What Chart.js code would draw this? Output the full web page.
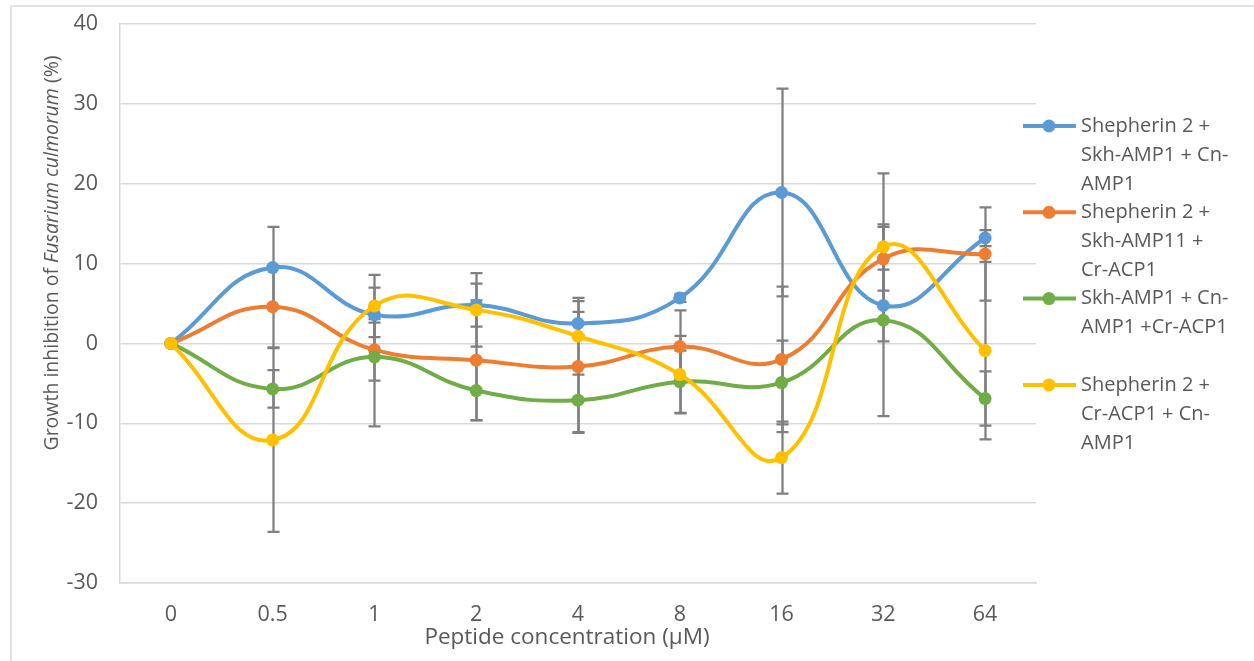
<!DOCTYPE html>
<html>
<head>
<meta charset="utf-8">
<script src="https://cdn.jsdelivr.net/npm/chart.js@4.4.1/dist/chart.umd.min.js"></script>
<style>
  html, body { margin: 0; padding: 0; background: #fff; }
  #wrap { position: relative; width: 1254px; height: 661px; }
</style>
</head>
<body>
<div id="wrap"><canvas id="chart"></canvas></div>
<script>
// Peptide concentrations (µM) on the category axis
const concentrations = ["0", "0.5", "1", "2", "4", "8", "16", "32", "64"];

// Mean growth inhibition (%) and error (±) per combination
const shepSkhCn = [0, 9.5, 3.6, 4.8, 2.5, 5.7, 18.9, 4.75, 13.2];
const shepSkhCnErr = [0, 5.1, 1.0, 2.7, 1.45, 0.5, 13.0, 4.5, 1.0];

const shepSkh11Cr = [0, 4.6, -0.8, -2.1, -2.9, -0.4, -2.0, 10.6, 11.2];
const shepSkh11CrErr = [0, 5.1, 3.85, 7.5, 8.2, 4.55, 9.1, 4.0, 5.85];

const skhCnCr = [0, -5.7, -1.7, -5.9, -7.1, -4.8, -4.9, 2.9, -6.9];
const skhCnCrErr = [0, 2.35, 8.7, 3.75, 4.1, 3.9, 5.25, 12.0, 3.4];

const shepCrCn = [0, -12.1, 4.7, 4.2, 0.9, -3.9, -14.3, 12.1, -0.9];
const shepCrCnErr = [0, 11.5, 3.9, 4.6, 4.8, 4.85, 4.5, 9.2, 11.1];

// Legend text, already broken into lines
const legendLines = [
  ["Shepherin 2 +", "Skh-AMP1 + Cn-", "AMP1"],
  ["Shepherin 2 +", "Skh-AMP11 +", "Cr-ACP1"],
  ["Skh-AMP1 + Cn-", "AMP1 +Cr-ACP1"],
  ["Shepherin 2 +", "Cr-ACP1 + Cn-", "AMP1"],
];

const yTicks = { min: -30, max: 40, step: 10 };

const colors = ["#5b9bd5", "#ed7d31", "#70ad47", "#ffc000"];
const textColor = "#595959";
const gridColor = "#d9d9d9";
const fontFamily = "'Open Sans', sans-serif";

function series(i, label, data, errors) {
  return {
    label,
    data,
    errors,
    borderColor: colors[i],
    backgroundColor: colors[i],
    pointBackgroundColor: colors[i],
    pointBorderColor: colors[i],
    pointRadius: 6.5,
    pointBorderWidth: 0,
    borderWidth: 4,
    tension: 0.45,
    order: 3 - i, // later series sit on top
  };
}

// Vertical error bars with caps, drawn under the lines
const errorBars = {
  id: "errorBars",
  beforeDatasetsDraw(chart) {
    const { ctx, scales: { x, y } } = chart;
    ctx.save();
    ctx.strokeStyle = "#7f7f7f";
    ctx.lineWidth = 2.25;
    chart.data.datasets.forEach((ds) => {
      ds.data.forEach((v, j) => {
        const e = ds.errors[j];
        if (!e) return;
        const px = Math.round(x.getPixelForValue(j)) + 0.5;
        const top = y.getPixelForValue(v + e);
        const bot = y.getPixelForValue(v - e);
        ctx.beginPath();
        ctx.moveTo(px, top);
        ctx.lineTo(px, bot);
        ctx.moveTo(px - 6, top);
        ctx.lineTo(px + 6, top);
        ctx.moveTo(px - 6, bot);
        ctx.lineTo(px + 6, bot);
        ctx.stroke();
      });
    });
    ctx.restore();
  },
};

// Frame, axis titles and the wrapped legend
const decorations = {
  id: "decorations",
  beforeDraw(chart) {
    const { ctx } = chart;
    ctx.save();
    ctx.strokeStyle = gridColor;
    ctx.lineWidth = 1.5;
    ctx.strokeRect(11, 6, 1400, 800);
    ctx.restore();
  },
  afterDraw(chart) {
    const { ctx } = chart;
    ctx.save();
    ctx.fillStyle = textColor;
    ctx.textBaseline = "middle";

    // x axis title
    ctx.font = `22.5px ${fontFamily}`;
    ctx.textAlign = "center";
    ctx.fillText("Peptide concentration (µM)", 567, 638);

    // y axis title with italic species name
    const parts = [
      ["Growth inhibition of ", `19.5px ${fontFamily}`],
      ["Fusarium culmorum", `italic 19.5px ${fontFamily}`],
      [" (%)", `19.5px ${fontFamily}`],
    ];
    let total = 0;
    const widths = parts.map(([t, f]) => {
      ctx.font = f;
      const w = ctx.measureText(t).width;
      total += w;
      return w;
    });
    ctx.translate(52, 253);
    ctx.rotate(-Math.PI / 2);
    ctx.textAlign = "left";
    let cx = -total / 2;
    parts.forEach(([t, f], k) => {
      ctx.font = f;
      ctx.fillText(t, cx, 0);
      cx += widths[k];
    });
    ctx.setTransform(1, 0, 0, 1, 0, 0);

    // legend
    ctx.font = `20px ${fontFamily}`;
    ctx.textAlign = "left";
    legendLines.forEach((lines, i) => {
      const ly = 126 + i * 86.3;
      ctx.strokeStyle = colors[i];
      ctx.lineWidth = 4;
      ctx.beginPath();
      ctx.moveTo(1023, ly);
      ctx.lineTo(1076, ly);
      ctx.stroke();
      ctx.fillStyle = colors[i];
      ctx.beginPath();
      ctx.arc(1049, ly, 6.5, 0, Math.PI * 2);
      ctx.fill();
      ctx.fillStyle = textColor;
      lines.forEach((t, k) => ctx.fillText(t, 1081, ly + k * 29));
    });
    ctx.restore();
  },
};

new Chart(document.getElementById("chart"), {
  type: "line",
  data: {
    labels: concentrations,
    datasets: [
      series(0, "Shepherin 2 + Skh-AMP1 + Cn-AMP1", shepSkhCn, shepSkhCnErr),
      series(1, "Shepherin 2 + Skh-AMP11 + Cr-ACP1", shepSkh11Cr, shepSkh11CrErr),
      series(2, "Skh-AMP1 + Cn-AMP1 +Cr-ACP1", skhCnCr, skhCnCrErr),
      series(3, "Shepherin 2 + Cr-ACP1 + Cn-AMP1", shepCrCn, shepCrCnErr),
    ],
  },
  options: {
    responsive: true,
    maintainAspectRatio: false,
    animation: false,
    layout: { padding: { left: 0, top: 24, right: 218, bottom: 0 } },
    plugins: {
      legend: { display: false },
      tooltip: { enabled: false },
    },
    scales: {
      x: {
        offset: true,
        grid: { display: false, drawTicks: false },
        border: { display: true, color: gridColor, width: 1.5 },
        ticks: {
          color: textColor,
          font: { family: fontFamily, size: 21.5 },
          padding: 19,
          maxRotation: 0,
        },
        afterFit(scale) {
          scale.height = 78;
          scale.paddingTop = 0;
          scale.paddingBottom = 0;
        },
      },
      y: {
        min: yTicks.min,
        max: yTicks.max,
        grid: { color: gridColor, lineWidth: 1.5, drawTicks: false },
        border: { display: true, color: gridColor, width: 1.5 },
        ticks: {
          stepSize: yTicks.step,
          color: textColor,
          font: { family: fontFamily, size: 21.5 },
          padding: 22,
        },
        afterFit(scale) {
          scale.width = 120;
          scale.paddingTop = 0;
          scale.paddingBottom = 0;
        },
      },
    },
  },
  plugins: [errorBars, decorations],
});
</script>
</body>
</html>
